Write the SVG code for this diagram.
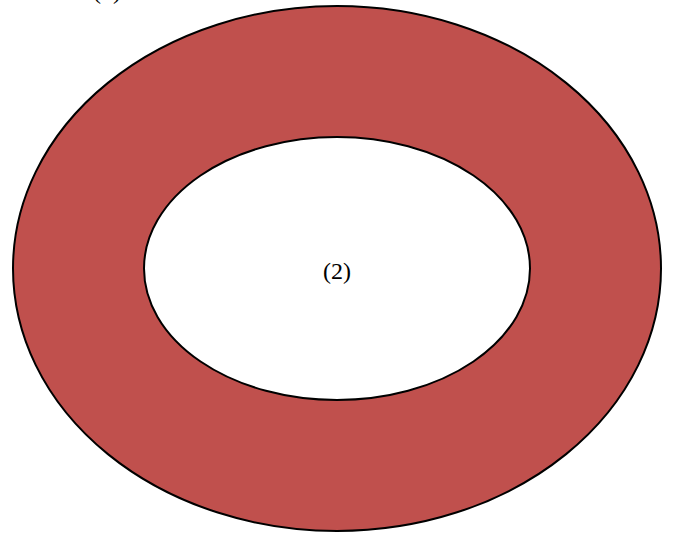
<svg xmlns="http://www.w3.org/2000/svg" width="673" height="533" viewBox="0 0 673 533">
<style>
.lbl{font-family:"Liberation Serif",serif;font-size:24px;fill:#000;text-anchor:middle}
</style>
<rect width="673" height="533" fill="#fff"/>
<g id="ring">
<path d="M13,268.5 A324,262.5 0 1,0 661,268.5 A324,262.5 0 1,0 13,268.5 Z M144,268.5 A193,131.5 0 1,1 530,268.5 A193,131.5 0 1,1 144,268.5 Z" fill="#C0504D" fill-rule="evenodd" stroke="none"/>
<ellipse cx="337" cy="268.5" rx="324" ry="262.5" fill="none" stroke="#000" stroke-width="2"/>
<ellipse cx="337" cy="268.5" rx="193" ry="131.5" fill="#fff" stroke="#000" stroke-width="2"/>
</g>
<g id="label1"><text class="lbl" x="107" y="-1">(1)</text></g>
<g id="label2"><text class="lbl" x="337" y="279">(2)</text></g>
</svg>
